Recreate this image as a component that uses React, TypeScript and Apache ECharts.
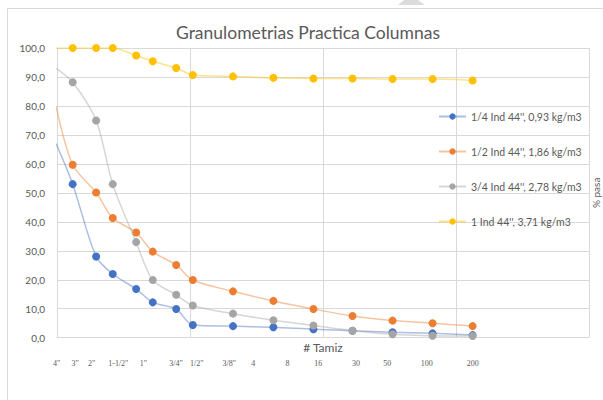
import React, { useEffect, useRef } from 'react';
import * as echarts from 'echarts';

const chartTitle = 'Granulometrias Practica Columnas';
const xAxisTitle = '# Tamiz';
const yAxisTitle = '% pasa';

// Sieve designations and their openings in mm
const sieveLabels = ['4"', '3"', '2"', '1-1/2"', '1"', '3/4"', '1/2"', '3/8"', '4', '8', '16', '30', '50', '100', '200'];
const sieveSizesMm = [101.6, 76.2, 50.8, 38.1, 25.4, 19.05, 12.7, 9.525, 4.75, 2.36, 1.18, 0.6, 0.3, 0.15, 0.075];

const seriesNames = [
  "1/4 Ind 44'', 0,93 kg/m3",
  "1/2 Ind 44'', 1,86 kg/m3",
  "3/4 Ind 44'', 2,78 kg/m3",
  "1 Ind 44'', 3,71 kg/m3",
];

const passQuarter = [67, 53.0, 28.0, 22.0, 16.8, 12.2, 9.9, 4.4, 4.0, 3.6, 2.9, 2.4, 1.9, 1.5, 0.9];
const passHalf = [80, 59.7, 50.1, 41.3, 36.3, 29.7, 25.1, 19.9, 16.0, 12.7, 9.9, 7.5, 5.9, 5.0, 4.0];
const passThreeQuarter = [93, 88.2, 75.0, 53.0, 33.0, 19.9, 14.8, 11.1, 8.3, 6.0, 4.2, 2.4, 1.2, 0.7, 0.6];
const passOne = [100, 100, 100, 100, 97.4, 95.4, 93.1, 90.7, 90.2, 89.7, 89.5, 89.5, 89.3, 89.3, 88.8];

const seriesColors = ['#4472C4', '#ED7D31', '#A5A5A5', '#FFC000'];

// layout: pixel centres of the sieve text labels under the plot
const sieveLabelX = [56.7, 75, 91.7, 118.3, 143.3, 176, 196.7, 229.3, 253.3, 287.5, 318.3, 356, 387.3, 426.7, 472.7];

const FONT = 'Lato, "Open Sans", sans-serif';

export default function App() {
  const ref = useRef<HTMLDivElement>(null);
  useEffect(() => {
    document.body.style.margin = '0';
    const chart = echarts.init(ref.current!, null, { renderer: 'svg' });
    const allSeries = [passQuarter, passHalf, passThreeQuarter, passOne];
    const option: any = {
      animation: false,
      backgroundColor: '#ffffff',
      textStyle: { fontFamily: FONT },
      title: {
        text: chartTitle,
        left: 171,
        top: 18,
        textStyle: { fontFamily: FONT, fontSize: 17.5, fontWeight: 'normal', color: '#595959' },
      },
      grid: { left: 57, right: 14, top: 48, bottom: 62.3, containLabel: false, outerBoundsMode: 'none' },
      legend: {
        orient: 'vertical',
        left: 433,
        top: 106,
        itemWidth: 27,
        itemHeight: 8,
        itemGap: 24,
        textStyle: { fontFamily: FONT, fontSize: 10.5, color: '#595959' },
        data: seriesNames,
      },
      xAxis: {
        type: 'log',
        logBase: 10,
        min: 0.01,
        max: 100,
        inverse: true,
        name: xAxisTitle,
        nameLocation: 'middle',
        nameGap: 4,
        nameTextStyle: { fontFamily: FONT, fontSize: 12, color: '#595959' },
        axisLine: { show: true, lineStyle: { color: '#d9d9d9' } },
        axisTick: { show: false },
        axisLabel: { show: false },
        splitLine: { show: true, lineStyle: { color: '#d9d9d9', width: 1 } },
      },
      yAxis: [
        {
          type: 'value',
          min: 0,
          max: 100,
          interval: 10,
          axisLine: { show: false },
          axisTick: { show: false },
          axisLabel: {
            margin: 12,
            fontFamily: FONT,
            fontSize: 10,
            color: '#595959',
            formatter: (v: number) => v.toFixed(1).replace('.', ','),
          },
          splitLine: { show: true, lineStyle: { color: '#d9d9d9', width: 1 } },
        },
        {
          type: 'value',
          position: 'right',
          min: 0,
          max: 100,
          name: yAxisTitle,
          nameLocation: 'middle',
          nameGap: 2,
          nameTextStyle: { fontFamily: FONT, fontSize: 10, color: '#595959' },
          axisLine: { show: false },
          axisTick: { show: false },
          axisLabel: { show: false },
          splitLine: { show: false },
        },
      ],
      series: allSeries.map((vals, i) => ({
        type: 'line',
        name: seriesNames[i],
        data: sieveSizesMm.map((s, j) => [s, vals[j]]),
        smooth: 0.3,
        symbol: 'circle',
        symbolSize: 8,
        clip: true,
        itemStyle: { color: seriesColors[i] },
        lineStyle: { color: seriesColors[i], width: 1.5, opacity: 0.45 },
        z: 2 + i,
      })),
      graphic: [
        {
          type: 'rect',
          shape: { x: 7.5, y: 8.5, width: 640, height: 440 },
          style: { fill: 'none', stroke: '#d9d9d9', lineWidth: 1 },
          silent: true,
        },
        {
          type: 'polygon',
          shape: { points: [[398, 5], [425, 5], [418, 0], [404, 0]] },
          style: { fill: '#dcdcdc' },
          silent: true,
        },
        ...sieveLabels.map((t, i) => ({
          type: 'text',
          x: sieveLabelX[i],
          y: 363.3,
          style: {
            text: t,
            fontFamily: '"Liberation Serif", serif',
            fontSize: 8,
            fill: '#595959',
            align: 'center',
            verticalAlign: 'middle',
          },
          silent: true,
        })),
      ],
    };
    chart.setOption(option);
    return () => chart.dispose();
  }, []);
  return <div ref={ref} style={{ width: 603, height: 400 }} />;
}
